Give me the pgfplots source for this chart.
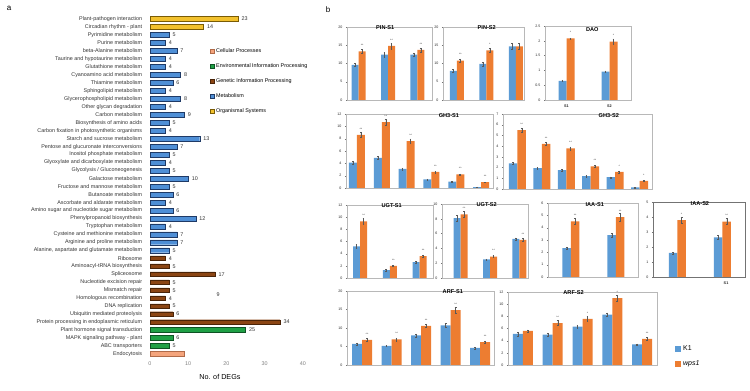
\documentclass[border=0pt]{standalone}
\usepackage{pgfplots}
\pgfplotsset{compat=1.18}
\usepackage{pgfplotstable}
\usepackage{fontspec}
\setmainfont{Liberation Sans}
\definecolor{cyel}{HTML}{F2C12E}
\definecolor{cyeld}{HTML}{7A5C05}
\definecolor{cblu}{HTML}{4F8FD6}
\definecolor{cblud}{HTML}{1F3A66}
\definecolor{cbrn}{HTML}{8B4513}
\definecolor{cbrnd}{HTML}{4A2408}
\definecolor{cgrn}{HTML}{1FA045}
\definecolor{cgrnd}{HTML}{0E5224}
\definecolor{csal}{HTML}{F4A47C}
\definecolor{csald}{HTML}{B06A48}
\definecolor{kone}{HTML}{5B9BD5}
\definecolor{wps}{HTML}{ED7D31}

% ---------- panel a data (value, row) ----------
\pgfplotstableread{
v r
23 1
14 2
}\tYel
\pgfplotstableread{
v r
5 3
4 4
7 5
4 6
4 7
8 8
6 9
4 10
8 11
4 12
9 13
5 14
4 15
13 16
7 17
5 18
4 19
5 20
10 21
5 22
6 23
4 24
6 25
12 26
4 27
7 28
7 29
5 30
}\tBlu
\pgfplotstableread{
v r
4 31
5 32
17 33
5 34
5 35
4 36
5 37
6 38
34 39
}\tBrn
\pgfplotstableread{
v r
25 40
6 41
5 42
}\tGrn
\pgfplotstableread{
v r
9 43
}\tSal

% ---------- panel b data ----------
\pgfplotstableread{
x k ke w we s
0 9.6 0.4 13.3 0.6 **
1 12.4 0.6 14.8 0.8 **
2 12.4 0.5 13.7 0.6 **
}\tPINa
\pgfplotstableread{
x k ke w we s
0 8.0 0.4 10.8 0.5 **
1 9.9 0.5 13.6 0.6 *
2 14.7 0.8 14.7 0.8 {}
}\tPINb
\pgfplotstableread{
x k ke w we s
0 0.65 0.03 2.08 0.02 *
1 0.96 0.03 1.97 0.10 *
}\tDAO
\pgfplotstableread{
x k ke w we s
0 4.1 0.2 8.6 0.4 **
1 4.9 0.2 10.7 0.5 **
2 3.1 0.15 7.6 0.4 **
3 1.4 0.08 2.6 0.15 **
4 1.05 0.07 2.2 0.1 **
5 0.15 0.02 0.95 0.06 **
}\tGHa
\pgfplotstableread{
x k ke w we s
0 2.4 0.08 5.5 0.2 **
1 1.95 0.08 4.2 0.15 **
2 1.75 0.07 3.8 0.15 **
3 1.2 0.05 2.1 0.1 **
4 1.1 0.05 1.6 0.1 *
5 0.15 0.03 0.75 0.05 *
}\tGHb
\pgfplotstableread{
x k ke w we s
0 5.2 0.3 9.3 0.5 **
1 1.3 0.1 2.0 0.1 **
2 2.6 0.1 3.6 0.2 **
}\tUGTa
\pgfplotstableread{
x k ke w we s
0 8.1 0.4 8.6 0.4 **
1 2.5 0.1 2.9 0.15 **
2 5.3 0.15 5.15 0.2 **
}\tUGTb
\pgfplotstableread{
x k ke w we s
0 2.35 0.1 4.5 0.25 **
1 3.4 0.15 4.85 0.3 **
}\tIAAa
\pgfplotstableread{
x k ke w we s
0 1.6 0.05 3.8 0.2 *
1 2.65 0.12 3.7 0.2 **
}\tIAAb
\pgfplotstableread{
x k ke w we s
0 5.7 0.3 6.8 0.4 **
1 5.2 0.2 6.9 0.4 **
2 8.0 0.4 10.6 0.5 **
3 10.7 0.5 14.8 0.8 **
4 4.6 0.2 6.2 0.3 **
}\tARFa
\pgfplotstableread{
x k ke w we s
0 5.1 0.3 5.6 0.2 {}
1 5.0 0.3 6.9 0.4 **
2 6.3 0.3 7.6 0.4 *
3 8.3 0.3 11.0 0.5 *
4 3.4 0.1 4.3 0.2 **
}\tARFb

\pgfplotsset{
 bplot/.style={
   scale only axis, anchor=south west, ybar=0pt,
   ymin=0, xtick=\empty,
   axis line style={draw=black!28, line width=0.6pt},
   tick pos=left, tick align=outside, major tick length=1.2pt,
   ytick style={draw=black!55, line width=0.3pt},
   yticklabel style={font=\fontsize{3.6}{4}\selectfont, text=black!85},
   /pgf/number format/assume math mode=true,
   title style={font=\fontsize{5.6}{6}\selectfont\bfseries, anchor=north},
   error bars/y dir=both, error bars/y explicit,
   error bars/error bar style={black!65, line width=0.3pt},
   error bars/error mark options={rotate=90, mark size=0.9pt, black!65, line width=0.3pt},
   nodes near coords style={font=\fontsize{3.4}{4}\selectfont, text=black!70, yshift=1.2pt},
 },
 kbar/.style={fill=kone, draw=none, forget plot, bar shift={-0.5*\pgfplotbarwidth}},
 wbar/.style={fill=wps, draw=none, forget plot, bar shift={0.5*\pgfplotbarwidth}, nodes near coords, point meta=explicit symbolic},
}

\begin{document}
\begin{tikzpicture}
\useasboundingbox (0pt,0pt) rectangle (750pt,391pt);
\node[font=\fontsize{8}{9}\selectfont] at (9pt,383pt) {a};
\node[font=\fontsize{8}{9}\selectfont] at (328pt,381pt) {b};

% ================= panel a =================
\begin{axis}[
  at={(150pt,33pt)}, anchor=south west, scale only axis,
  width=153pt, height=343pt,
  xbar=0pt, bar width=4.8pt,
  xmin=0, xmax=40, ymin=0.5, ymax=43.5, y dir=reverse,
  axis line style={draw=none}, tick style={draw=none},
  xtick={0,10,20,30,40},
  ytick={1,...,43},
  yticklabels={Plant-pathogen interaction, Circadian rhythm - plant, Pyrimidine metabolism, Purine metabolism, beta-Alanine metabolism, Taurine and hypotaurine metabolism, Glutathione metabolism, Cyanoamino acid metabolism, Thiamine metabolism, Sphingolipid metabolism, Glycerophospholipid metabolism, Other glycan degradation, Carbon metabolism, Biosynthesis of amino acids, Carbon fixation in photosynthetic organisms, Starch and sucrose metabolism, Pentose and glucuronate interconversions, Inositol phosphate metabolism, Glyoxylate and dicarboxylate metabolism, Glycolysis / Gluconeogenesis, Galactose metabolism, Fructose and mannose metabolism, Butanoate metabolism, Ascorbate and aldarate metabolism, Amino sugar and nucleotide sugar metabolism, Phenylpropanoid biosynthesis, Tryptophan metabolism, Cysteine and methionine metabolism, Arginine and proline metabolism, {Alanine, aspartate and glutamate metabolism}, Ribosome, Aminoacyl-tRNA biosynthesis, Spliceosome, Nucleotide excision repair, Mismatch repair, Homologous recombination, DNA replication, Ubiquitin mediated proteolysis, Protein processing in endoplasmic reticulum, Plant hormone signal transduction, MAPK signaling pathway - plant, ABC transporters, Endocytosis},
  yticklabel style={font=\fontsize{5.4}{6}\selectfont, text=black!80},
  xticklabel style={font=\fontsize{5.4}{6}\selectfont, text=black!50},
  /pgf/number format/assume math mode=true,
  xlabel={No. of DEGs},
  xlabel style={font=\fontsize{7.2}{8}\selectfont, at={(axis description cs:0.457,0)}, anchor=north, yshift=-13pt},
  nodes near coords style={font=\fontsize{5.4}{6}\selectfont, text=black!80},
  legend style={at={(axis description cs:0.37,0.915)}, anchor=north west, draw=none, fill=none, font=\fontsize{5.4}{6}\selectfont, row sep=5.6pt, legend cell align=left},
  legend image code/.code={\draw[#1, line width=0.4pt] (0pt,-2pt) rectangle (4pt,2pt);},
]
\addplot[bar shift=0pt, fill=cyel, draw=cyeld, line width=0.4pt, forget plot, nodes near coords] table[x=v,y=r]{\tYel};
\addplot[bar shift=0pt, fill=cblu, draw=cblud, line width=0.4pt, forget plot, nodes near coords] table[x=v,y=r]{\tBlu};
\addplot[bar shift=0pt, fill=cbrn, draw=cbrnd, line width=0.4pt, forget plot, nodes near coords] table[x=v,y=r]{\tBrn};
\addplot[bar shift=0pt, fill=cgrn, draw=cgrnd, line width=0.4pt, forget plot, nodes near coords] table[x=v,y=r]{\tGrn};
\addplot[bar shift=0pt, fill=csal, draw=csald, line width=0.4pt, forget plot] table[x=v,y=r]{\tSal};
\node[font=\fontsize{5.4}{6}\selectfont, text=black!80] at (axis cs:17.8,35.5) {9};
\addlegendimage{fill=csal, draw=csald}\addlegendentry{Cellular Processes}
\addlegendimage{fill=cgrn, draw=cgrnd}\addlegendentry{Environmental Information Processing}
\addlegendimage{fill=cbrn, draw=cbrnd}\addlegendentry{Genetic Information Processing}
\addlegendimage{fill=cblu, draw=cblud}\addlegendentry{Metabolism}
\addlegendimage{fill=cyel, draw=cyeld}\addlegendentry{Organismal Systems}
\end{axis}

% ================= panel b =================
% PIN-S1
\begin{axis}[bplot, at={(347pt,291pt)}, width=85pt, height=73pt, bar width=7pt,
  xmin=-0.4, xmax=2.5, ymax=20, ytick={0,5,...,20},
  title={PIN-S1}, title style={at={(0.45,0.98)}}]
\addplot[kbar] table[x=x,y=k,y error=ke]{\tPINa};
\addplot[wbar] table[x=x,y=w,y error=we,meta=s]{\tPINa};
\end{axis}
% PIN-S2
\begin{axis}[bplot, at={(443pt,291pt)}, width=81pt, height=73pt, bar width=7pt,
  xmin=-0.47, xmax=2.28, ymax=20, ytick={0,5,...,20},
  title={PIN-S2}, title style={at={(0.54,0.98)}}]
\addplot[kbar] table[x=x,y=k,y error=ke]{\tPINb};
\addplot[wbar] table[x=x,y=w,y error=we,meta=s]{\tPINb};
\end{axis}
% DAO
\begin{axis}[bplot, at={(545pt,291pt)}, width=86pt, height=74pt, bar width=8pt,
  xmin=-0.5, xmax=1.5, ymax=2.5, ytick={0,0.5,...,2.5},
  xtick={0,1}, xticklabels={S1,S2}, x tick style={draw=none},
  xticklabel style={font=\fontsize{3.8}{4}\selectfont\bfseries, text=black!85},
  title={DAO}, title style={at={(0.55,0.95)}}]
\addplot[kbar] table[x=x,y=k,y error=ke]{\tDAO};
\addplot[wbar] table[x=x,y=w,y error=we,meta=s]{\tDAO};
\end{axis}
% GH3-S1
\begin{axis}[bplot, at={(346pt,203pt)}, width=147pt, height=74pt, bar width=8pt,
  xmin=-0.44, xmax=5.48, ymax=12, ytick={0,2,...,12},
  title={GH3-S1}, title style={at={(0.70,0.97)}}]
\addplot[kbar] table[x=x,y=k,y error=ke]{\tGHa};
\addplot[wbar] table[x=x,y=w,y error=we,meta=s]{\tGHa};
\end{axis}
% GH3-S2
\begin{axis}[bplot, at={(503pt,202pt)}, width=149pt, height=75pt, bar width=8.5pt,
  xmin=-0.59, xmax=5.51, ymax=7, ytick={0,1,...,7},
  title={GH3-S2}, title style={at={(0.71,0.97)}}]
\addplot[kbar] table[x=x,y=k,y error=ke]{\tGHb};
\addplot[wbar] table[x=x,y=w,y error=we,meta=s]{\tGHb};
\end{axis}
% UGT-S1
\begin{axis}[bplot, at={(347pt,113pt)}, width=86pt, height=73pt, bar width=7pt,
  xmin=-0.44, xmax=2.45, ymax=12, ytick={0,2,...,12},
  title={UGT-S1}, title style={at={(0.52,0.98)}}]
\addplot[kbar] table[x=x,y=k,y error=ke]{\tUGTa};
\addplot[wbar] table[x=x,y=w,y error=we,meta=s]{\tUGTa};
\end{axis}
% UGT-S2
\begin{axis}[bplot, at={(442pt,113pt)}, width=86pt, height=74pt, bar width=7pt,
  xmin=-0.63, xmax=2.29, ymax=10, ytick={0,2,...,10},
  title={UGT-S2}, title style={at={(0.52,0.98)}}]
\addplot[kbar] table[x=x,y=k,y error=ke]{\tUGTb};
\addplot[wbar] table[x=x,y=w,y error=we,meta=s]{\tUGTb};
\end{axis}
% IAA-S1
\begin{axis}[bplot, at={(548pt,114pt)}, width=90pt, height=74pt, bar width=8.5pt,
  xmin=-0.51, xmax=1.49, ymax=6, ytick={0,1,...,6},
  title={IAA-S1}, title style={at={(0.52,0.97)}}]
\addplot[kbar] table[x=x,y=k,y error=ke]{\tIAAa};
\addplot[wbar] table[x=x,y=w,y error=we,meta=s]{\tIAAa};
\end{axis}
% IAA-S2
\begin{axis}[bplot, at={(653pt,114pt)}, width=92pt, height=75pt, bar width=8.5pt,
  axis line style={draw=black!55, line width=0.6pt},
  xmin=-0.54, xmax=1.5, ymax=5, ytick={0,1,...,5},
  xtick={1.08}, xticklabels={S1}, x tick style={draw=none},
  xticklabel style={font=\fontsize{3.8}{4}\selectfont\bfseries, text=black!85},
  title={IAA-S2}, title style={at={(0.51,0.97)}}]
\addplot[kbar] table[x=x,y=k,y error=ke]{\tIAAb};
\addplot[wbar] table[x=x,y=w,y error=we,meta=s]{\tIAAb};
\end{axis}
% ARF-S1
\begin{axis}[bplot, at={(347pt,26pt)}, width=147pt, height=74pt, bar width=10pt,
  xmin=-0.51, xmax=4.47, ymax=20, ytick={0,5,...,20},
  title={ARF-S1}, title style={at={(0.72,0.98)}}]
\addplot[kbar] table[x=x,y=k,y error=ke]{\tARFa};
\addplot[wbar] table[x=x,y=w,y error=we,meta=s]{\tARFa};
\end{axis}
% ARF-S2
\begin{axis}[bplot, at={(508pt,26pt)}, width=149pt, height=73pt, bar width=10pt,
  xmin=-0.5, xmax=4.5, ymax=12, ytick={0,2,...,12},
  title={ARF-S2}, title style={at={(0.44,0.98)}},
  legend style={at={(1.10,0.32)}, anchor=north west, draw=none, fill=none, font=\fontsize{7}{8}\selectfont, row sep=5pt, legend cell align=left},
  legend image code/.code={\fill[#1] (0pt,-3pt) rectangle (6pt,3pt);}]
\addplot[kbar] table[x=x,y=k,y error=ke]{\tARFb};
\addplot[wbar] table[x=x,y=w,y error=we,meta=s]{\tARFb};
\addlegendimage{fill=kone, draw=none}\addlegendentry{K1}
\addlegendimage{fill=wps, draw=none}\addlegendentry{\textit{wps1}}
\end{axis}
\end{tikzpicture}
\end{document}
